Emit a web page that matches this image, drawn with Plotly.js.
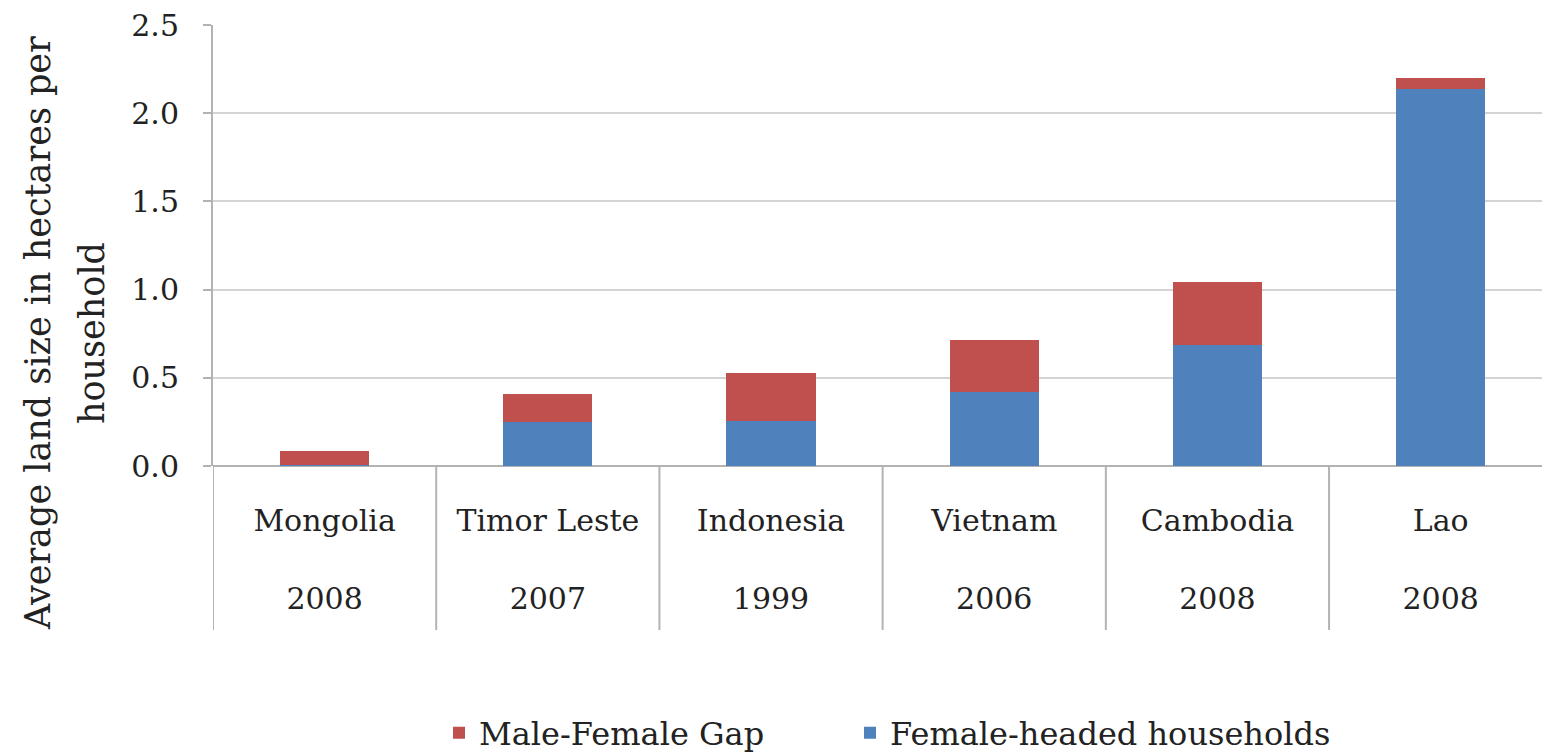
<!DOCTYPE html>
<html>
<head>
<meta charset="utf-8">
<script src="https://cdn.plot.ly/plotly-3.0.1.min.js"></script>
<style>html,body{margin:0;padding:0;background:#fff;}#chart{width:1542px;height:754px;}</style>
</head>
<body>
<div id="chart"></div>
<script>
// ---- data ----
const countries = ["Mongolia", "Timor Leste", "Indonesia", "Vietnam", "Cambodia", "Lao"];
const years = ["2008", "2007", "1999", "2006", "2008", "2008"];
const femaleHeaded = [0.005, 0.25, 0.255, 0.42, 0.685, 2.135];
const maleFemaleGap = [0.081, 0.157, 0.275, 0.297, 0.36, 0.063];
const yTickVals = [0.0, 0.5, 1.0, 1.5, 2.0, 2.5];
const yTickText = ["0.0", "0.5", "1.0", "1.5", "2.0", "2.5"];
const yTitleLines = ["Average land size in hectares per", "household"];

const FONT = "DejaVu Serif, Liberation Serif, serif";
const TXT = "#222222";
const idx = countries.map((c, i) => i);
const tickText = countries.map((c, i) => c + "<br><br>" + years[i]);

const traces = [
  {
    type: "bar", name: "Female-headed households",
    x: idx, y: femaleHeaded, legend: "legend2",
    marker: {color: "#4F81BD"}, width: 0.4, hoverinfo: "y+name"
  },
  {
    type: "bar", name: "Male-Female Gap",
    x: idx, y: maleFemaleGap, legend: "legend",
    marker: {color: "#C0504D"}, width: 0.4, hoverinfo: "y+name"
  }
];

// category dividers below the axis, at category boundaries
const shapes = idx.map(i => ({
  type: "line", xref: "x", yref: "paper",
  x0: i - 0.5, x1: i - 0.5, y0: -0.372, y1: 0,
  line: {color: "#B3B3B3", width: 2}
}));

// y-axis title, two lines rotated
const yTitleX = [-0.1317, -0.0910];
const annotations = yTitleLines.map((t, i) => ({
  text: t, xref: "paper", yref: "paper",
  x: yTitleX[i], y: 0.3016, xanchor: "center", yanchor: "middle",
  textangle: -90, showarrow: false,
  font: {family: FONT, size: 35, color: TXT}
}));

const legendCommon = {
  orientation: "h",
  xref: "container", yref: "container",
  xanchor: "left", y: 0.028, yanchor: "middle",
  font: {family: FONT, size: 32, color: TXT},
  bgcolor: "rgba(0,0,0,0)"
};

const layout = {
  width: 1542, height: 754,
  margin: {l: 213, r: 0, t: 25, b: 288},
  paper_bgcolor: "#fff", plot_bgcolor: "#fff",
  barmode: "stack",
  font: {family: FONT, color: TXT, size: 30},
  showlegend: true,
  legend: Object.assign({}, legendCommon, {x: 439 / 1542}),
  legend2: Object.assign({}, legendCommon, {x: 850 / 1542}),
  xaxis: {
    type: "linear",
    range: [-0.5, 5.454],
    tickmode: "array", tickvals: idx, ticktext: tickText,
    ticks: "", showgrid: false, zeroline: false, showline: false,
    tickfont: {family: FONT, size: 30, color: TXT},
    ticklabelstandoff: 34,
    fixedrange: true
  },
  yaxis: {
    range: [0, 2.5],
    tickmode: "array", tickvals: yTickVals, ticktext: yTickText,
    ticks: "outside", ticklen: 8, tickcolor: "#B3B3B3", tickwidth: 2,
    showline: true, linecolor: "#B3B3B3", linewidth: 2,
    showgrid: true, gridcolor: "#D4D4D4", gridwidth: 2,
    zeroline: true, zerolinecolor: "#B3B3B3", zerolinewidth: 2,
    tickfont: {family: FONT, size: 30, color: TXT},
    ticklabelstandoff: 18,
    automargin: false,
    fixedrange: true
  },
  shapes: shapes,
  annotations: annotations
};

Plotly.newPlot("chart", traces, layout, {displayModeBar: false, staticPlot: true});
</script>
</body>
</html>
